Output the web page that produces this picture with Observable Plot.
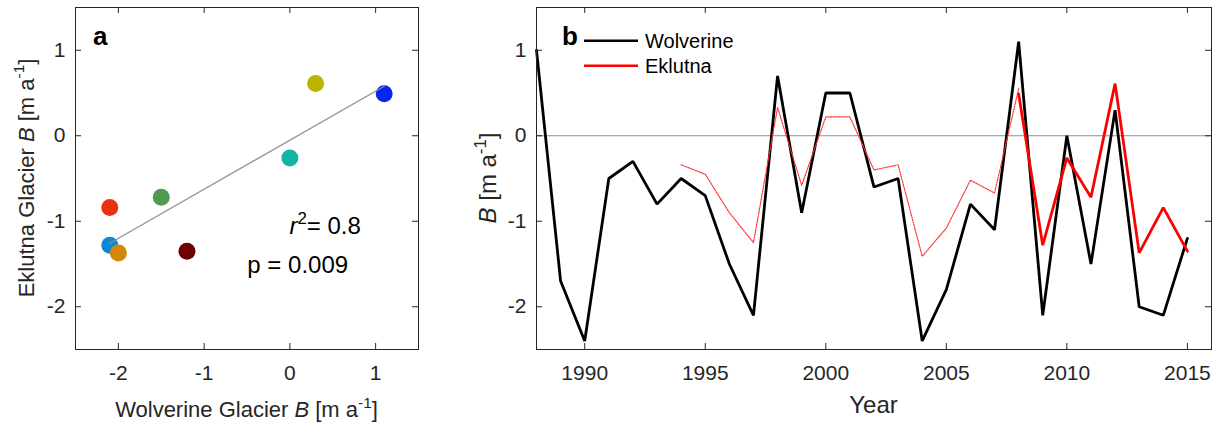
<!DOCTYPE html>
<html>
<head>
<meta charset="utf-8">
<script src="https://cdn.jsdelivr.net/npm/d3@7"></script>
<script src="https://cdn.jsdelivr.net/npm/@observablehq/plot@0.6"></script>
<style>
  body { margin: 0; background: #fff; }
  #chart { position: relative; width: 1224px; height: 428px; background: #fff; }
  #chart svg { position: absolute; top: 0; }
</style>
</head>
<body>
<div id="chart"></div>
<script>
// Annual glacier-wide mass balance, Wolverine and Eklutna glaciers [m a^-1]
const years = [1988, 1989, 1990, 1991, 1992, 1993, 1994, 1995, 1996, 1997,
               1998, 1999, 2000, 2001, 2002, 2003, 2004, 2005, 2006, 2007,
               2008, 2009, 2010, 2011, 2012, 2013, 2014, 2015];
const wolverine = [1.0, -1.7, -2.4, -0.5, -0.3, -0.8, -0.5, -0.7, -1.5, -2.1,
                   0.7, -0.9, 0.5, 0.5, -0.6, -0.5, -2.4, -1.8, -0.8, -1.1,
                   1.1, -2.1, 0.0, -1.5, 0.3, -2.0, -2.1, -1.2];

// Eklutna reconstructed series (dotted) and measured series (solid)
const eklutnaModelYears = [1994, 1995, 1996, 1997, 1998, 1999, 2000, 2001,
                           2002, 2003, 2004, 2005, 2006, 2007, 2008];
const eklutnaModel = [-0.34, -0.45, -0.9, -1.25, 0.33, -0.58, 0.22, 0.22,
                      -0.40, -0.34, -1.41, -1.08, -0.52, -0.67, 0.55];
const eklutnaYears = [2008, 2009, 2010, 2011, 2012, 2013, 2014, 2015];
const eklutna = [0.49, -1.28, -0.26, -0.72, 0.61, -1.37, -0.84, -1.35];
const yearColors = ["#0526ee", "#0a88d6", "#12b4a6", "#4f9a50",
                    "#bab500", "#d4860a", "#e8330b", "#6e0000"];

const xTicksA = [-2, -1, 0, 1];
const yTicks = [-2, -1, 0, 1];
const xTicksB = [1990, 1995, 2000, 2005, 2010, 2015];

const FONT = '"Liberation Sans", Arial, Helvetica, sans-serif';
const AXIS = "#262626";
const plain = d => String(d);

const wolverineRows = years.map((year, i) => ({year, b: wolverine[i]}));
const modelRows = eklutnaModelYears.map((year, i) => ({year, b: eklutnaModel[i]}));
const eklutnaRows = eklutnaYears.map((year, i) => ({year, b: eklutna[i]}));
const pairs = eklutnaYears.map((year, i) => ({
  year,
  w: wolverine[years.indexOf(year)],
  e: eklutna[i],
  color: yearColors[i]
}));

// Inward box ticks on all four sides
function boxTicks(xt, yt, fw, fh) {
  const s = {stroke: AXIS, strokeWidth: 1};
  return [
    Plot.tickX(xt, {x: d => d, insetTop: fh - 6, ...s}),
    Plot.tickX(xt, {x: d => d, insetBottom: fh - 6, ...s}),
    Plot.tickY(yt, {y: d => d, insetRight: fw - 6, ...s}),
    Plot.tickY(yt, {y: d => d, insetLeft: fw - 6, ...s})
  ];
}

// Text with italic and superscript pieces
function rich(svg, x, y, parts, {size, anchor = "middle", rotate = 0, fill = AXIS, weight = "normal"}) {
  const t = d3.select(svg).append("text")
    .attr("transform", `translate(${x},${y}) rotate(${rotate})`)
    .attr("text-anchor", anchor)
    .attr("font-family", FONT)
    .attr("font-size", size)
    .attr("font-weight", weight)
    .attr("fill", fill);
  const rise = size * 0.42;
  let raised = false;
  for (const p of parts) {
    const s = t.append("tspan").text(p.t);
    if (p.italic) s.attr("font-style", "italic");
    if (p.sup) {
      s.attr("font-size", size * 0.7);
      if (!raised) { s.attr("dy", -rise); raised = true; }
    } else if (raised) {
      s.attr("dy", rise); raised = false;
    }
  }
  return t;
}

const H = 428, MT = 7, MB = 79;
const FH = H - MT - MB;

// Panel a: scatter of the overlapping years
const WA = 440, MLA = 75, MRA = 22;
const plotA = Plot.plot({
  width: WA, height: H,
  marginLeft: MLA, marginRight: MRA, marginTop: MT, marginBottom: MB,
  style: {fontFamily: FONT, background: "transparent", overflow: "visible"},
  x: {domain: [-2.5, 1.5]},
  y: {domain: [-2.5, 1.5]},
  marks: [
    Plot.dot(pairs, {x: "w", y: "e", r: 8.5, fill: d => d.color}),
    Plot.linearRegressionY(pairs, {x: "w", y: "e", ci: 0, stroke: "#8f8f8f", strokeWidth: 1.2}),
    Plot.frame({stroke: AXIS, strokeWidth: 1}),
    ...boxTicks(xTicksA, yTicks, WA - MLA - MRA, FH),
    Plot.axisX(xTicksA, {tickSize: 0, tickPadding: 16, fontSize: 21, fill: AXIS, label: null, tickFormat: plain}),
    Plot.axisY(yTicks, {tickSize: 0, tickPadding: 10, fontSize: 21, fill: AXIS, label: null, tickFormat: plain})
  ]
});
plotA.style.left = "0px";

// Panel b: time series
const WB = 784, MLB = 96, MRB = 13;
const plotB = Plot.plot({
  width: WB, height: H,
  marginLeft: MLB, marginRight: MRB, marginTop: MT, marginBottom: MB,
  style: {fontFamily: FONT, background: "transparent", overflow: "visible"},
  x: {domain: [1988, 2016]},
  y: {domain: [-2.5, 1.5]},
  marks: [
    Plot.ruleY([0], {stroke: "#8c8c8c", strokeWidth: 1}),
    Plot.line(wolverineRows, {x: "year", y: "b", stroke: "#000", strokeWidth: 2.8, strokeLinejoin: "miter"}),
    Plot.line(modelRows, {x: "year", y: "b", stroke: "#ff3030", strokeWidth: 1.2, strokeDasharray: "1.3,1.3"}),
    Plot.line(eklutnaRows, {x: "year", y: "b", stroke: "#ff0000", strokeWidth: 2.8, strokeLinejoin: "miter"}),
    Plot.frame({stroke: AXIS, strokeWidth: 1}),
    ...boxTicks(xTicksB, yTicks, WB - MLB - MRB, FH),
    Plot.axisX(xTicksB, {tickSize: 0, tickPadding: 16, fontSize: 21, fill: AXIS, label: null, tickFormat: plain}),
    Plot.axisY(yTicks, {tickSize: 0, tickPadding: 10, fontSize: 21, fill: AXIS, label: null, tickFormat: plain})
  ]
});
plotB.style.left = WA + "px";

const chart = document.getElementById("chart");
chart.append(plotA, plotB);

// Panel a labels and statistics
const xa = plotA.scale("x"), ya = plotA.scale("y");
const midA = MLA + (WA - MLA - MRA) / 2;
rich(plotA, midA, 417, [{t: "Wolverine Glacier "}, {t: "B", italic: true}, {t: " [m a"}, {t: "-1", sup: true}, {t: "]"}], {size: 22});
rich(plotA, 33.5, MT + FH / 2, [{t: "Eklutna Glacier "}, {t: "B", italic: true}, {t: " [m a"}, {t: "-1", sup: true}, {t: "]"}], {size: 22, rotate: -90});
rich(plotA, MLA + 18, 45, [{t: "a"}], {size: 26, anchor: "start", weight: "bold", fill: "#000"});
rich(plotA, xa.apply(0.0), ya.apply(-1.16), [{t: "r", italic: true}, {t: "2", sup: true}, {t: "= 0.8"}], {size: 24, anchor: "start", fill: "#000"});
rich(plotA, xa.apply(-0.49), ya.apply(-1.615), [{t: "p = 0.009"}], {size: 24, anchor: "start", fill: "#000"});

// Panel b labels and legend
const midB = MLB + (WB - MLB - MRB) / 2;
rich(plotB, midB, 413, [{t: "Year"}], {size: 24});
rich(plotB, 56, MT + FH / 2, [{t: "B", italic: true}, {t: " [m a"}, {t: "-1", sup: true}, {t: "]"}], {size: 24, rotate: -90});
rich(plotB, MLB + 26, 45, [{t: "b"}], {size: 26, anchor: "start", weight: "bold", fill: "#000"});

const legend = [
  {name: "Wolverine", color: "#000", y: 40.7},
  {name: "Eklutna", color: "#ff0000", y: 65.7}
];
const lg = d3.select(plotB).append("g");
for (const item of legend) {
  lg.append("line")
    .attr("x1", MLB + 48).attr("x2", MLB + 102)
    .attr("y1", item.y).attr("y2", item.y)
    .attr("stroke", item.color).attr("stroke-width", 2.6);
  rich(plotB, MLB + 109, item.y + 7.4, [{t: item.name}], {size: 20, anchor: "start", fill: "#000"});
}
</script>
</body>
</html>
